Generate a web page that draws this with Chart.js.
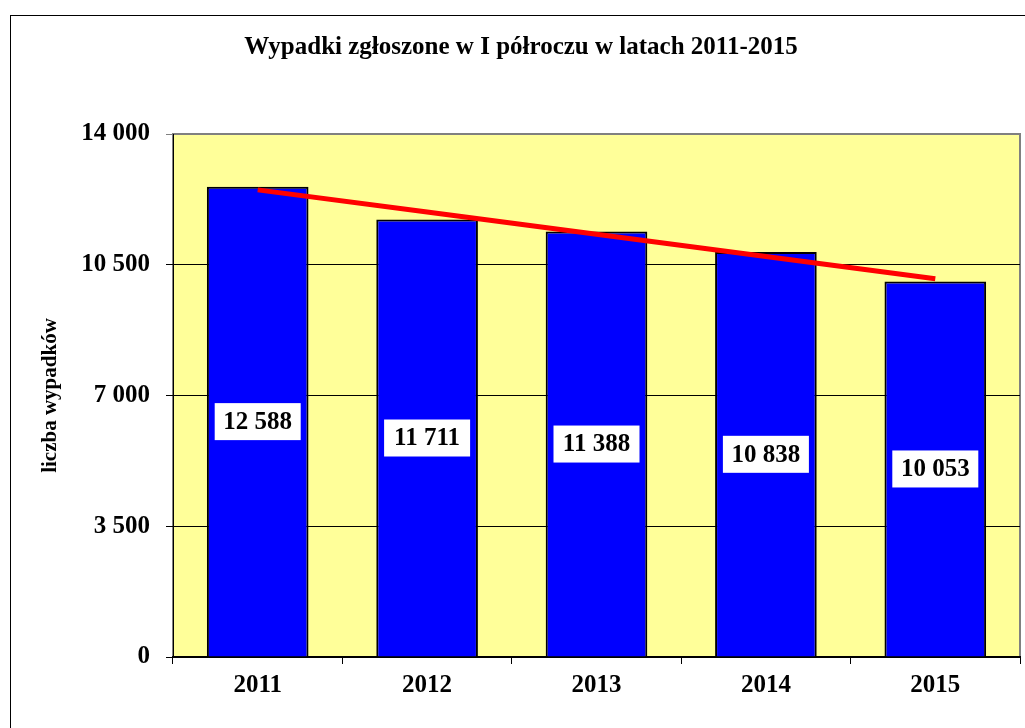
<!DOCTYPE html>
<html>
<head>
<meta charset="utf-8">
<script src="https://cdn.jsdelivr.net/npm/chart.js@4"></script>
<style>
  html, body { margin: 0; padding: 0; background: #fff; }
  #wrap { width: 1025px; height: 728px; }
</style>
</head>
<body>
<div id="wrap"><canvas id="wypadkiChart" width="1025" height="728"></canvas></div>
<script>
// dane z wykresu
const lata = ['2011', '2012', '2013', '2014', '2015'];
const wypadki = [12588, 11711, 11388, 10838, 10053];
const trend = [12504, 11910, 11316, 10721, 10127];
const yTicks = [0, 3500, 7000, 10500, 14000];

const FONT = "'Liberation Serif', 'Times New Roman', serif";

function formatLiczba(v) {
  return String(v).replace(/\B(?=(\d{3})+(?!\d))/g, ' ');
}

// tlo obszaru wykresu + ramka
const tloPlugin = {
  id: 'tlo',
  beforeDraw(chart) {
    const ctx = chart.ctx;
    const a = chart.chartArea;
    ctx.save();
    ctx.fillStyle = '#fff';
    ctx.fillRect(0, 0, chart.width, chart.height);
    ctx.strokeStyle = '#000';
    ctx.lineWidth = 1;
    ctx.strokeRect(10.5, 15.5, 1200, 900);
    ctx.fillStyle = '#FFFF99';
    ctx.fillRect(a.left, a.top, a.right - a.left, a.bottom - a.top);
    ctx.strokeStyle = '#808080';
    ctx.lineWidth = 2;
    ctx.strokeRect(a.left, a.top, a.right - a.left, a.bottom - a.top);
    ctx.restore();
  }
};

// etykiety wartosci w srodku slupkow
const etykietyPlugin = {
  id: 'etykiety',
  afterDatasetsDraw(chart) {
    const ctx = chart.ctx;
    const meta = chart.getDatasetMeta(1);
    ctx.save();
    ctx.font = 'bold 25px ' + FONT;
    ctx.textAlign = 'center';
    ctx.textBaseline = 'middle';
    meta.data.forEach((bar, i) => {
      const midY = (bar.y + bar.base) / 2;
      const w = 86, h = 37;
      ctx.fillStyle = '#fff';
      ctx.fillRect(bar.x - w / 2, midY - h / 2, w, h);
      ctx.fillStyle = '#000';
      ctx.fillText(formatLiczba(wypadki[i]), bar.x, midY + 1);
    });
    ctx.restore();
  }
};

const ctx = document.getElementById('wypadkiChart').getContext('2d');
new Chart(ctx, {
  data: {
    labels: lata,
    datasets: [
      {
        type: 'line',
        label: 'trend',
        data: trend,
        borderColor: '#FF0000',
        borderWidth: 5,
        pointRadius: 0,
        tension: 0,
        order: 0
      },
      {
        type: 'bar',
        label: 'liczba wypadków',
        data: wypadki,
        backgroundColor: '#0000FF',
        borderColor: '#000',
        borderWidth: 2,
        barPercentage: 0.6,
        categoryPercentage: 1,
        order: 1
      }
    ]
  },
  options: {
    responsive: false,
    animation: false,
    layout: { padding: { left: 22, right: 5, top: 0, bottom: 0 } },
    plugins: {
      legend: { display: false },
      tooltip: { enabled: false },
      title: {
        display: true,
        text: 'Wypadki zgłoszone w I półroczu w latach 2011-2015',
        color: '#000',
        font: { family: FONT, size: 25, weight: 'bold', lineHeight: 1.2 },
        padding: { top: 33, bottom: 71 }
      }
    },
    scales: {
      x: {
        afterFit(scale) { scale.height = 71; },
        grid: {
          offset: true,
          drawOnChartArea: false,
          tickLength: 7,
          color: '#000'
        },
        border: { color: '#000', width: 2 },
        ticks: {
          color: '#000',
          padding: 7,
          font: { family: FONT, size: 25, weight: 'bold' }
        }
      },
      y: {
        min: 0,
        max: 14000,
        afterFit(scale) { scale.width = 151; },
        afterBuildTicks(scale) { scale.ticks = yTicks.map(v => ({ value: v })); },
        grid: {
          tickLength: 7,
          color: (c) => c.tick && c.tick.value === 14000 ? '#808080' : '#000',
          lineWidth: 1
        },
        border: { color: '#000', width: 1 },
        ticks: {
          color: '#000',
          padding: 16,
          font: { family: FONT, size: 25, weight: 'bold' },
          callback: (v) => formatLiczba(v)
        },
        title: {
          display: true,
          text: 'liczba wypadków',
          color: '#000',
          font: { family: FONT, size: 21, weight: 'bold' },
          padding: { top: 16 }
        }
      }
    }
  },
  plugins: [tloPlugin, etykietyPlugin]
});
</script>
</body>
</html>
